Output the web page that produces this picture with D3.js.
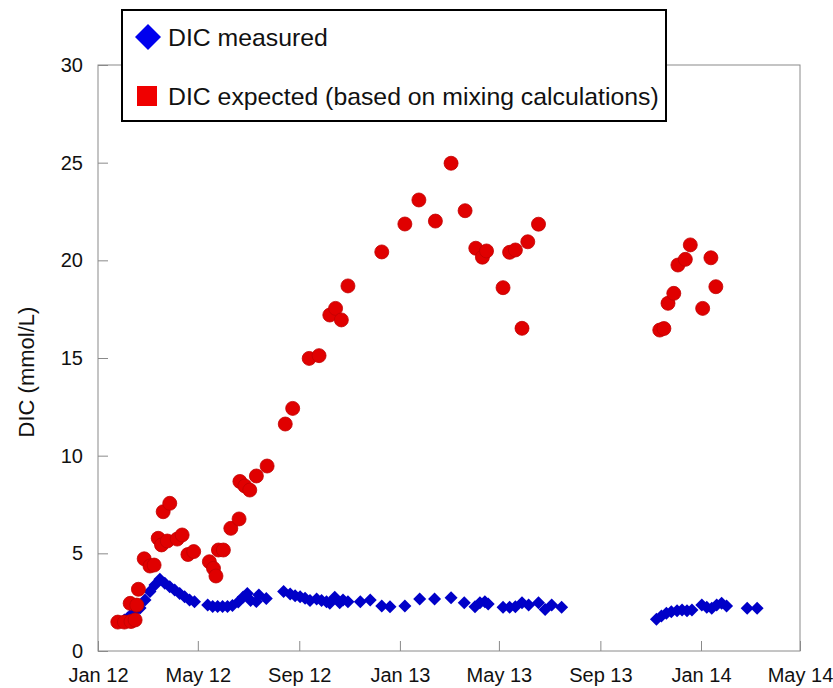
<!DOCTYPE html>
<html>
<head>
<meta charset="utf-8">
<script src="https://cdn.jsdelivr.net/npm/d3@7"></script>
<style>
  html, body { margin: 0; padding: 0; background: #fff; }
  svg { display: block; }
  text { font-family: "Liberation Sans", Arial, sans-serif; fill: #111; }
</style>
</head>
<body>
<svg id="chart" width="833" height="688"></svg>
<script>
// ---- data ----
const measuredDates = [
  "2012-02-02","2012-02-06","2012-02-10","2012-02-15","2012-02-21","2012-02-27","2012-03-04","2012-03-10",
  "2012-03-16","2012-03-22","2012-03-28","2012-04-03","2012-04-09","2012-04-15","2012-04-21","2012-04-27",
  "2012-05-13","2012-05-19","2012-05-25","2012-05-31","2012-06-06","2012-06-12","2012-06-19","2012-06-25",
  "2012-06-30","2012-07-04","2012-07-11","2012-07-14","2012-07-23",
  "2012-08-13","2012-08-21","2012-08-27","2012-09-02","2012-09-08","2012-09-14","2012-09-22","2012-09-28",
  "2012-10-04","2012-10-08","2012-10-14","2012-10-20","2012-10-24","2012-10-30","2012-11-14","2012-11-26",
  "2012-12-10","2012-12-20","2013-01-07","2013-01-25","2013-02-12","2013-03-04","2013-03-20","2013-04-02",
  "2013-04-08","2013-04-14","2013-04-18","2013-05-06","2013-05-14","2013-05-21","2013-05-29","2013-06-06",
  "2013-06-18","2013-06-26","2013-07-04","2013-07-16",
  "2013-11-08","2013-11-14","2013-11-20","2013-11-26","2013-12-03","2013-12-09","2013-12-15","2013-12-21",
  "2014-01-02","2014-01-08","2014-01-14","2014-01-20","2014-01-26","2014-02-01","2014-02-26","2014-03-10"
];
const measuredValues = [
  1.59,1.69,1.84,2.05,2.20,2.61,3.04,3.38,
  3.67,3.47,3.29,3.12,2.95,2.78,2.61,2.52,
  2.36,2.28,2.28,2.28,2.28,2.33,2.51,2.76,
  2.94,2.59,2.53,2.87,2.69,
  3.04,2.92,2.83,2.78,2.70,2.58,2.66,2.58,
  2.52,2.44,2.75,2.47,2.61,2.52,2.52,2.61,
  2.30,2.27,2.30,2.66,2.66,2.73,2.47,2.27,
  2.47,2.52,2.41,2.24,2.24,2.27,2.47,2.36,
  2.47,2.13,2.36,2.24,
  1.62,1.79,1.93,2.01,2.06,2.10,2.06,2.10,
  2.36,2.24,2.19,2.36,2.44,2.30,2.19,2.19
];
const expectedDates = [
  "2012-01-25","2012-02-02","2012-02-10","2012-02-15","2012-02-09","2012-02-17","2012-02-19","2012-02-26",
  "2012-03-04","2012-03-09","2012-03-14","2012-03-18","2012-03-25","2012-03-20","2012-03-28","2012-04-06",
  "2012-04-12","2012-04-19","2012-04-26","2012-05-15","2012-05-20","2012-05-23","2012-05-26","2012-06-01",
  "2012-06-10","2012-06-20","2012-06-21","2012-06-27","2012-07-03","2012-07-11","2012-07-24","2012-08-15",
  "2012-08-24","2012-09-13","2012-09-25","2012-10-08","2012-10-15","2012-10-22","2012-10-30","2012-12-10",
  "2013-01-07","2013-01-24","2013-02-13","2013-03-04","2013-03-21","2013-04-03","2013-04-11","2013-04-16",
  "2013-05-06","2013-05-14","2013-05-21","2013-05-29","2013-06-05","2013-06-18",
  "2013-11-12","2013-11-17","2013-11-22","2013-11-29","2013-12-04","2013-12-13","2013-12-19",
  "2014-01-03","2014-01-13","2014-01-19"
];
const expectedValues = [
  1.48,1.48,1.51,1.59,2.44,2.35,3.16,4.72,
  4.35,4.40,5.77,5.43,5.63,7.13,7.56,5.73,
  5.94,4.94,5.09,4.57,4.23,3.84,5.17,5.17,
  6.28,6.76,8.68,8.45,8.24,8.96,9.47,11.62,
  12.42,14.98,15.12,17.20,17.54,16.95,18.69,20.43,
  21.86,23.09,22.01,24.97,22.54,20.62,20.16,20.48,
  18.60,20.41,20.53,16.52,20.95,21.85,
  16.43,16.51,17.80,18.31,19.76,20.05,20.79,
  17.54,20.13,18.65
];
const xTickDates = ["2012-01-01","2012-05-01","2012-09-01","2013-01-01","2013-05-01","2013-09-01","2014-01-01","2014-05-01"];
const xTickLabels = ["Jan 12","May 12","Sep 12","Jan 13","May 13","Sep 13","Jan 14","May 14"];
const yTicks = [0, 5, 10, 15, 20, 25, 30];
const seriesNames = ["DIC measured", "DIC expected (based on mixing calculations)"];
const yTitle = "DIC (mmol/L)";

// ---- drawing ----
const parse = d3.utcParse("%Y-%m-%d");
const margin = {left: 98, right: 33, top: 65, bottom: 37};
const W = 833, H = 688;
const svg = d3.select("#chart");
svg.append("rect").attr("width", W).attr("height", H).attr("fill", "#fff");

const x = d3.scaleUtc()
  .domain([parse(xTickDates[0]), parse(xTickDates[xTickDates.length - 1])])
  .range([margin.left, W - margin.right]);
const y = d3.scaleLinear().domain([0, 30]).range([H - margin.bottom, margin.top]);

const axisColor = "#8a8a8a";

// frame
svg.append("rect")
  .attr("x", x.range()[0]).attr("y", y(30))
  .attr("width", x.range()[1] - x.range()[0]).attr("height", y(0) - y(30))
  .attr("fill", "none").attr("stroke", axisColor).attr("stroke-width", 1);

// y axis
const yAxis = d3.axisLeft(y).tickValues(yTicks).tickSize(-10).tickPadding(15).tickFormat(d3.format("d"));
const gy = svg.append("g").attr("transform", `translate(${x.range()[0]},0)`).call(yAxis);
gy.select(".domain").remove();
gy.selectAll(".tick line").attr("stroke", axisColor);
gy.selectAll(".tick text").attr("font-size", 20).attr("fill", "#111")
  .style("font-family", '"Liberation Sans", Arial, sans-serif');

// x axis
const xAxis = d3.axisBottom(x).tickValues(xTickDates.map(parse)).tickSize(-10).tickPadding(17)
  .tickFormat((d, i) => xTickLabels[i]);
const gx = svg.append("g").attr("transform", `translate(0,${y(0)})`).call(xAxis);
gx.select(".domain").remove();
gx.selectAll(".tick line").attr("stroke", axisColor);
gx.selectAll(".tick text").attr("font-size", 20).attr("fill", "#111")
  .style("font-family", '"Liberation Sans", Arial, sans-serif');

// y title
svg.append("text")
  .attr("transform", `translate(34,${(y(0) + y(30)) / 2 + 14}) rotate(-90)`)
  .attr("text-anchor", "middle")
  .attr("font-size", 22)
  .text(yTitle);

const diamond = s => `M0,${-s}L${s},0L0,${s}L${-s},0Z`;
const blue = "#0000c8", red = "#e00000";

const measured = measuredDates.map((d, i) => ({date: parse(d), value: measuredValues[i]}));
const expected = expectedDates.map((d, i) => ({date: parse(d), value: expectedValues[i]}));

svg.append("g").selectAll("path").data(measured).join("path")
  .attr("d", diamond(6.5))
  .attr("transform", d => `translate(${x(d.date)},${y(d.value)})`)
  .attr("fill", blue);

svg.append("g").selectAll("circle").data(expected).join("circle")
  .attr("cx", d => x(d.date)).attr("cy", d => y(d.value)).attr("r", 7)
  .attr("fill", red).attr("stroke", "#c00000").attr("stroke-width", 0.8);

// legend
const lg = svg.append("g");
lg.append("rect").attr("x", 122).attr("y", 10).attr("width", 544).attr("height", 111)
  .attr("fill", "#fff").attr("stroke", "#000").attr("stroke-width", 2);
lg.append("path").attr("d", diamond(13)).attr("transform", "translate(148,37)").attr("fill", "#0000ee");
lg.append("text").attr("x", 168).attr("y", 37).attr("dy", "0.35em").attr("font-size", 24.8).text(seriesNames[0]);
lg.append("rect").attr("x", 137).attr("y", 86).attr("width", 20).attr("height", 20).attr("fill", "#f00000");
lg.append("text").attr("x", 168).attr("y", 96).attr("dy", "0.35em").attr("font-size", 24.8).text(seriesNames[1]);
</script>
</body>
</html>
